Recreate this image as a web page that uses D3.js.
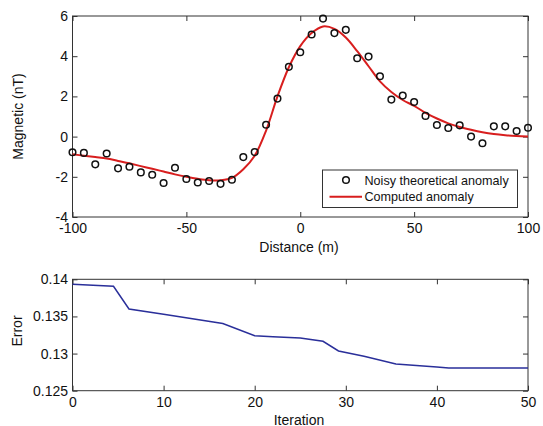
<!DOCTYPE html>
<html>
<head>
  <meta charset="utf-8">
  <title>Magnetic anomaly inversion</title>
  <style>
    body { margin: 0; background: #fff; }
    text { font-family: "Liberation Sans", Arial, sans-serif; fill: #111; }
    .frame { fill: none; stroke: #333; stroke-width: 1; }
    .tick line { stroke: #333; }
  </style>
  <script src="https://d3js.org/d3.v7.min.js"></script>
</head>
<body>
<svg width="543" height="426"></svg>
<script>
// top panel: noisy observations every 5 m
var distance = [-100, -95, -90, -85, -80, -75, -70, -65, -60, -55, -50, -45, -40, -35, -30, -25, -20,
  -15, -10, -5, 0, 5, 10, 15, 20, 25, 30, 35, 40, 45, 50, 55, 60, 65, 70, 75, 80, 85, 90, 95, 100];
var noisy = [-0.78, -0.81, -1.38, -0.84, -1.58, -1.50, -1.78, -1.90, -2.31, -1.55, -2.11, -2.28, -2.21,
  -2.35, -2.15, -1.02, -0.77, 0.59, 1.89, 3.47, 4.20, 5.08, 5.87, 5.15, 5.31, 3.90, 3.98, 3.00, 1.84,
  2.04, 1.72, 1.03, 0.58, 0.43, 0.56, 0.00, -0.33, 0.51, 0.51, 0.28, 0.44];
var computed = [-0.88, -0.95, -1.02, -1.09, -1.21, -1.33, -1.47, -1.60, -1.74, -1.88, -2.00, -2.10,
  -2.17, -2.17, -2.05, -1.62, -0.95, 0.30, 2.00, 3.45, 4.50, 5.15, 5.48, 5.36, 4.93, 4.25, 3.50, 2.75,
  2.22, 1.82, 1.53, 1.18, 0.90, 0.66, 0.48, 0.34, 0.22, 0.13, 0.07, 0.03, 0.00];
var xTicksTop = [-100, -50, 0, 50, 100];
var yTicksTop = [-4, -2, 0, 2, 4, 6];

// bottom panel: error vs iteration (vertices of the curve)
var iteration = [0, 4.5, 6.2, 10, 16.5, 20, 22, 25, 27.5, 29.2, 32, 35.5, 40, 41.3, 50];
var errorVal = [0.13933, 0.13905, 0.13600, 0.13530, 0.13405, 0.13240, 0.13225, 0.13210, 0.13165,
  0.13035, 0.12965, 0.12860, 0.12820, 0.12806, 0.12806];
var xTicksBot = [0, 10, 20, 30, 40, 50];
var yTicksBot = [0.125, 0.13, 0.135, 0.14];

var svg = d3.select("svg");
var left = 72.5, right = 528;

// plain hyphen minus, like the original figure
function plain(d) { return String(+d.toFixed(3)); }

function panel(top, bottom, xDom, yDom, xT, yT) {
  var x = d3.scaleLinear().domain(xDom).range([left, right]);
  var y = d3.scaleLinear().domain(yDom).range([bottom, top]);
  var g = svg.append("g");
  var ax = [
    { a: d3.axisBottom(x).tickValues(xT).tickSizeInner(-5).tickFormat(plain), t: "translate(0," + bottom + ")" },
    { a: d3.axisTop(x).tickValues(xT).tickSizeInner(-5).tickFormat(""), t: "translate(0," + top + ")" },
    { a: d3.axisLeft(y).tickValues(yT).tickSizeInner(-5).tickFormat(plain), t: "translate(" + left + ",0)" },
    { a: d3.axisRight(y).tickValues(yT).tickSizeInner(-5).tickFormat(""), t: "translate(" + right + ",0)" }
  ];
  ax.forEach(function(d, i) {
    var s = g.append("g").attr("transform", d.t).call(d.a.tickSizeOuter(0));
    s.select(".domain").remove();
    s.selectAll("text").attr("font-size", "14px").attr("fill", "#111")
      .style("font-family", "'Liberation Sans', Arial, sans-serif");
    if (i === 0) s.selectAll("text").attr("y", 12).attr("dy", "0.32em");
    if (i === 2) s.selectAll("text").attr("x", -4.5);
  });
  g.append("rect").attr("class", "frame")
    .attr("x", left).attr("y", top).attr("width", right - left).attr("height", bottom - top);
  return { x: x, y: y, g: g };
}

// ---- top chart
var p1 = panel(16, 217, [-100, 100], [-4, 6], xTicksTop, yTicksTop);
var pts = distance.map(function(d, i) { return { x: d, n: noisy[i], c: computed[i] }; });

p1.g.append("path").datum(pts)
  .attr("fill", "none").attr("stroke", "#d81e1e").attr("stroke-width", 2)
  .attr("d", d3.line().curve(d3.curveCatmullRom)
    .x(function(d) { return p1.x(d.x); }).y(function(d) { return p1.y(d.c); }));

p1.g.selectAll(".pt").data(pts).enter().append("circle")
  .attr("cx", function(d) { return p1.x(d.x); })
  .attr("cy", function(d) { return p1.y(d.n); })
  .attr("r", 3.3).attr("fill", "none").attr("stroke", "#111").attr("stroke-width", 1.5);

svg.append("text").attr("transform", "translate(22.5,116.5) rotate(-90)")
  .attr("text-anchor", "middle").attr("font-size", "14px").text("Magnetic (nT)");
svg.append("text").attr("x", 299).attr("y", 251.5)
  .attr("text-anchor", "middle").attr("font-size", "14px").text("Distance (m)");

// legend
var lg = svg.append("g");
lg.append("rect").attr("x", 322.5).attr("y", 170).attr("width", 195).attr("height", 37.5)
  .attr("fill", "#fff").attr("stroke", "#333").attr("stroke-width", 1);
lg.append("circle").attr("cx", 346).attr("cy", 180).attr("r", 3.3)
  .attr("fill", "none").attr("stroke", "#111").attr("stroke-width", 1.5);
lg.append("line").attr("x1", 329.5).attr("x2", 362).attr("y1", 196.7).attr("y2", 196.7)
  .attr("stroke", "#d81e1e").attr("stroke-width", 2);
lg.append("text").attr("x", 364.5).attr("y", 184.5).attr("font-size", "12.6px").attr("fill", "#333")
  .text("Noisy theoretical anomaly");
lg.append("text").attr("x", 364.5).attr("y", 201).attr("font-size", "12.6px").attr("fill", "#333")
  .text("Computed anomaly");

// ---- bottom chart
var p2 = panel(279.3, 390.7, [0, 50], [0.125, 0.14], xTicksBot, yTicksBot);
p2.g.append("path").datum(iteration)
  .attr("fill", "none").attr("stroke", "#2a2f9a").attr("stroke-width", 1.5)
  .attr("d", d3.line()
    .x(function(d) { return p2.x(d); })
    .y(function(d, i) { return p2.y(errorVal[i]); }));

svg.append("text").attr("transform", "translate(22,331) rotate(-90)")
  .attr("text-anchor", "middle").attr("font-size", "14px").text("Error");
svg.append("text").attr("x", 299).attr("y", 424.5)
  .attr("text-anchor", "middle").attr("font-size", "14px").text("Iteration");
</script>
</body>
</html>
